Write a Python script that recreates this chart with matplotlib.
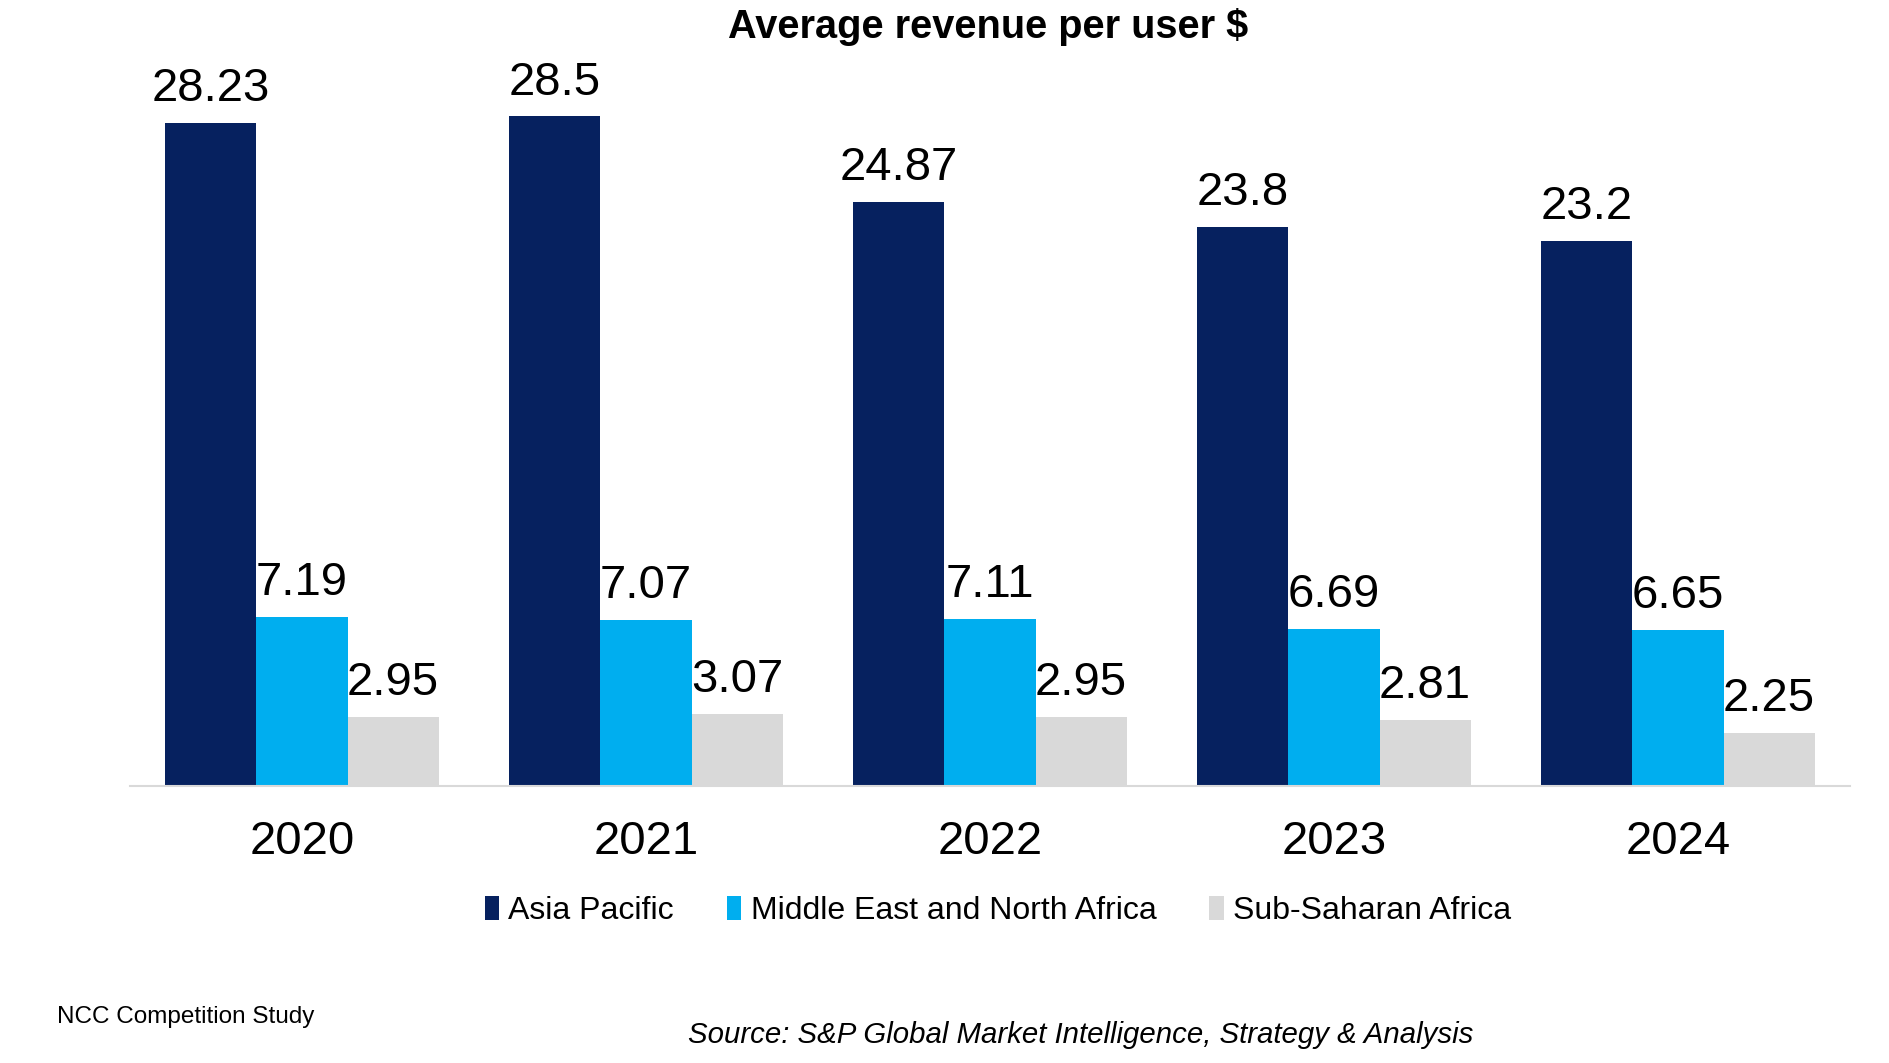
import matplotlib.pyplot as plt
import numpy as np

plt.rcParams["font.family"] = ["Liberation Sans", "DejaVu Sans"]

years = ["2020", "2021", "2022", "2023", "2024"]
series_names = ["Asia Pacific", "Middle East and North Africa", "Sub-Saharan Africa"]
asia_pacific = [28.23, 28.5, 24.87, 23.8, 23.2]
mena = [7.19, 7.07, 7.11, 6.69, 6.65]
sub_saharan = [2.95, 3.07, 2.95, 2.81, 2.25]
colors = ["#06215F", "#00AEEF", "#D9D9D9"]


def fmt(value):
    return f"{value:g}"


fig = plt.figure(figsize=(18.9, 10.63), dpi=100)
ax = fig.add_axes([0.0688, 0.2606, 0.910, 0.663])

x = np.arange(len(years))
width = 0.265
for i, (values, color, name) in enumerate(zip([asia_pacific, mena, sub_saharan], colors, series_names)):
    bars = ax.bar(x + (i - 1) * width, values, width=width, color=color, label=name)
    for bar, value in zip(bars, values):
        ax.annotate(
            fmt(value),
            (bar.get_x() + bar.get_width() / 2, bar.get_height()),
            xytext=(0, 8.5),
            textcoords="offset points",
            ha="center",
            va="bottom",
            fontsize=34,
            color="black",
        )

ax.set_xlim(-0.5, 4.5)
ax.set_ylim(0, 30)
ax.set_xticks(x)
ax.set_xticklabels(years, fontsize=34)
ax.tick_params(axis="x", length=0, pad=24.5)
ax.set_yticks([])
for side in ["top", "right", "left"]:
    ax.spines[side].set_visible(False)
ax.spines["bottom"].set_color("#D9D9D9")
ax.spines["bottom"].set_linewidth(1.5)

fig.text(0.523, 0.975, "Average revenue per user $", ha="center", va="center",
         fontsize=28.6, fontweight="bold")

fig.legend(
    loc="center",
    bbox_to_anchor=(0.528, 0.143),
    ncol=3,
    frameon=False,
    fontsize=23,
    handlelength=0.45,
    handleheight=0.75,
    handletextpad=0.3,
    columnspacing=1.65,
)

fig.text(0.030, 0.043, "NCC Competition Study", ha="left", va="center", fontsize=17.5)
fig.text(0.5716, 0.026, "Source: S&P Global Market Intelligence, Strategy & Analysis",
         ha="center", va="center", fontsize=21.2, style="italic")

fig.savefig("out.png", dpi=100)
